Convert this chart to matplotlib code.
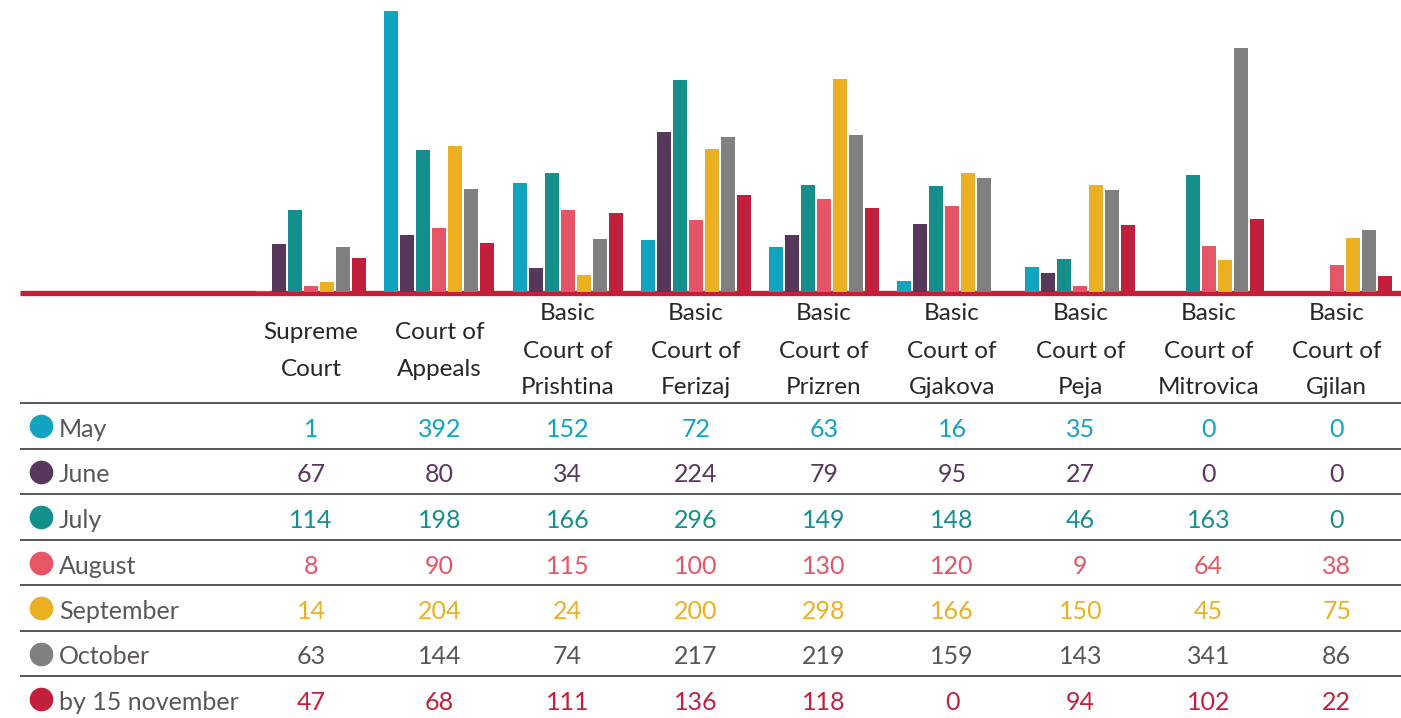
import matplotlib.pyplot as plt
import numpy as np

plt.rcParams['font.family'] = ['Lato', 'DejaVu Sans']

# table columns (courts) and monthly counts
courts = ["Supreme\nCourt", "Court of\nAppeals", "Basic\nCourt of\nPrishtina",
          "Basic\nCourt of\nFerizaj", "Basic\nCourt of\nPrizren", "Basic\nCourt of\nGjakova",
          "Basic\nCourt of\nPeja", "Basic\nCourt of\nMitrovica", "Basic\nCourt of\nGjilan"]
months = ["May", "June", "July", "August", "September", "October", "by 15 november"]

may = [1, 392, 152, 72, 63, 16, 35, 0, 0]
june = [67, 80, 34, 224, 79, 95, 27, 0, 0]
july = [114, 198, 166, 296, 149, 148, 46, 163, 0]
august = [8, 90, 115, 100, 130, 120, 9, 64, 38]
september = [14, 204, 24, 200, 298, 166, 150, 45, 75]
october = [63, 144, 74, 217, 219, 159, 143, 341, 86]
november = [47, 68, 111, 136, 118, 0, 94, 102, 22]
series = [may, june, july, august, september, october, november]

bar_colors = ['#12A3C0', '#58375D', '#148F8B', '#E65565', '#EAB022', '#808080', '#C21F3C']
num_colors = ['#12A3C0', '#58375D', '#148F8B', '#E65565', '#EAB022', '#5A5555', '#C21F3C']

W, H = 1401, 718
fig = plt.figure(figsize=(W / 100, H / 100), dpi=100)

# background axes in pixel coords for the table part
ax_t = fig.add_axes([0, 0, 1, 1])
ax_t.set_xlim(0, W)
ax_t.set_ylim(H, 0)
ax_t.axis('off')

col0 = 247          # left edge of first data column
colw = 128.2        # column width
label_left = 20
centers = [col0 + colw * (i + 0.5) for i in range(len(courts))]

# red baseline
ax_t.plot([label_left, W], [292.5, 292.5], color='#C41E3A', lw=3.8, solid_capstyle='butt')

# header labels
for cx, name in zip(centers, courts):
    lines = name.split("\n")
    n = len(lines)
    for i, ln in enumerate(lines):
        yb = 357.5 + (i - (n - 1) / 2) * 37
        ax_t.text(cx, yb, ln, ha='center', va='baseline', fontsize=17.5, color='#2A2626')

# row lines, labels and numbers
row_top = 403
row_h = 45.5
for r, (m, vals) in enumerate(zip(months, series)):
    y0 = row_top + r * row_h
    ax_t.plot([label_left, W], [y0, y0], color='#3A3A3A', lw=1.2, solid_capstyle='butt')
    base = y0 + 34
    ax_t.scatter([41], [y0 + 23], s=290, color=bar_colors[r], zorder=3, linewidths=0)
    ax_t.text(59, base, m, ha='left', va='baseline', fontsize=18, color='#5D5656')
    for cx, v in zip(centers, vals):
        ax_t.text(cx, base, str(v), ha='center', va='baseline', fontsize=18,
                  color=num_colors[r])

# bar chart on top
base_px = 292
px_per_unit = 0.716
ax = fig.add_axes([0, 1 - base_px / H, 1, base_px / H])
ax.set_xlim((0 - centers[0]) / colw, (W - centers[0]) / colw)
ax.set_ylim(0, base_px / px_per_unit)
ax.axis('off')
ax.patch.set_alpha(0)

idx = np.arange(len(courts))
pitch = 16 / colw
bw = 14 / colw
for k, vals in enumerate(series):
    ax.bar(idx + (k - 3) * pitch, vals, width=bw, color=bar_colors[k], linewidth=0)

fig.savefig('out.png', dpi=100)
